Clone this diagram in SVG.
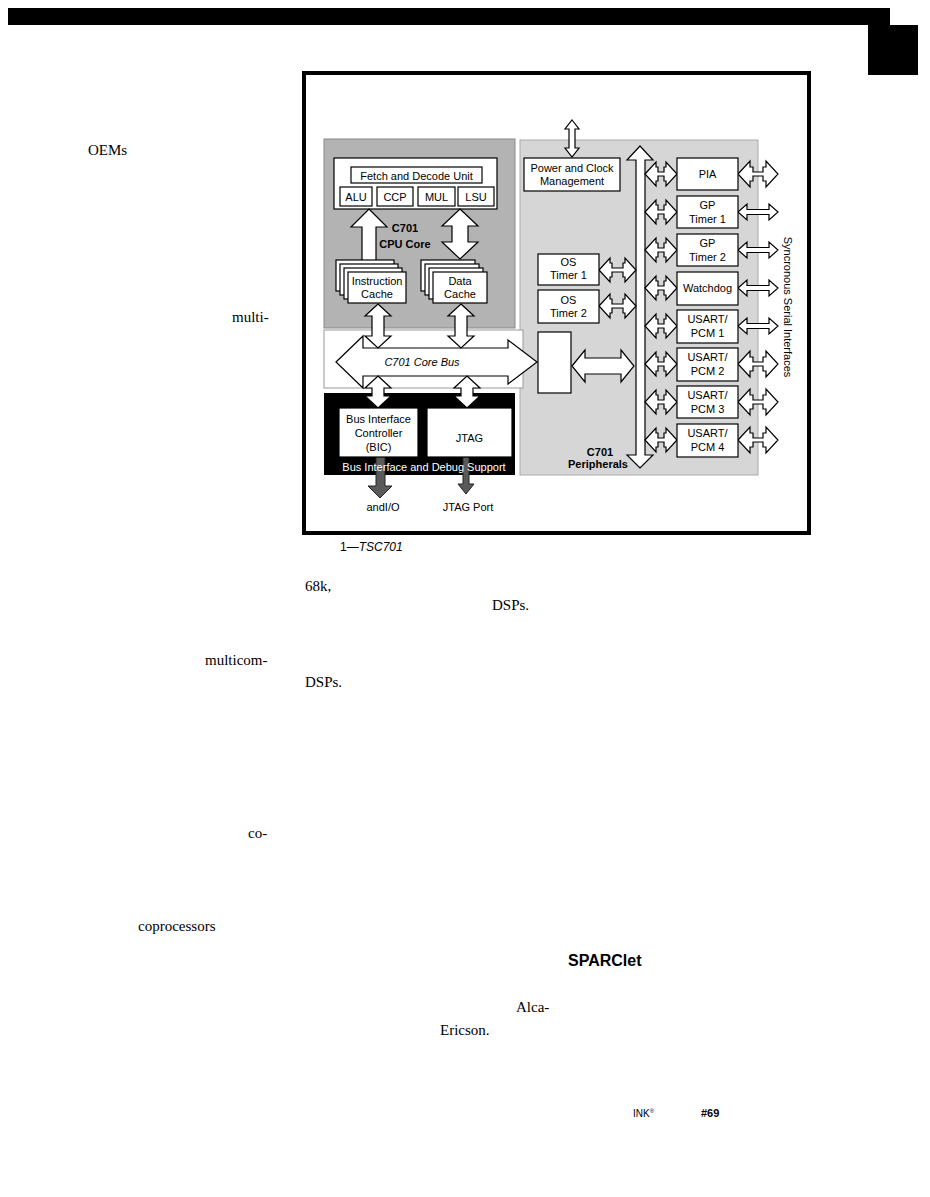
<svg xmlns="http://www.w3.org/2000/svg" width="930" height="1197" viewBox="0 0 930 1197">
<defs>
<style>
.box{fill:#fff;stroke:#000;stroke-width:1.2}
.t{font-family:"Liberation Sans",Arial,sans-serif;font-size:11px;fill:#000;text-anchor:middle}
.tb{font-family:"Liberation Sans",Arial,sans-serif;font-size:11px;font-weight:bold;fill:#000;text-anchor:middle}
.arr{fill:#fff;stroke:#000;stroke-width:1.2;stroke-linejoin:miter}
.garr{fill:#5a5a5a;stroke:#222;stroke-width:1}
.body{font-family:"Liberation Serif","Times New Roman",serif;font-size:15px;fill:#000}
</style>
<path id="w32" d="M0,0 L11,-12 L11,-7 L13,-7 L13,-2 L19,-2 L19,-7 L21,-7 L21,-12 L32,0 L21,12 L21,7 L19,7 L19,2 L13,2 L13,7 L11,7 L11,12 Z"/>
<path id="w40" d="M0,0 L12,-13 L12,-7 L15,-7 L15,-2 L25,-2 L25,-7 L28,-7 L28,-13 L40,0 L28,13 L28,7 L25,7 L25,2 L15,2 L15,7 L12,7 L12,13 Z"/>
<path id="t40" d="M0,0 L9,-8 L9,-2.5 L31,-2.5 L31,-8 L40,0 L31,8 L31,2.5 L9,2.5 L9,8 Z"/>
<path id="w37" d="M0,0 L11,-12 L11,-7 L13,-7 L13,-2 L24,-2 L24,-7 L26,-7 L26,-12 L37,0 L26,12 L26,7 L24,7 L24,2 L13,2 L13,7 L11,7 L11,12 Z"/>
</defs>

<!-- page header -->
<rect x="8" y="8" width="882" height="17" fill="#000"/>
<rect x="868" y="25" width="50" height="50" fill="#000"/>

<!-- frame -->
<rect x="304" y="73" width="505" height="460" fill="#fff" stroke="#000" stroke-width="4"/>

<!-- backgrounds -->
<g id="cpu-core">
<rect x="324" y="139" width="191" height="189" fill="#b3b3b3" stroke="#888" stroke-width="1"/>
<rect x="334" y="158" width="163" height="51" class="box"/>
<text class="tb" x="405" y="232">C701</text>
<text class="tb" x="405" y="248">CPU Core</text>
</g>
<g id="peripherals-area">
<rect x="520" y="140" width="238" height="335" fill="#d6d6d6" stroke="#aaa" stroke-width="1"/>
<text class="tb" x="600" y="456">C701</text>
<text class="tb" x="598" y="468">Peripherals</text>
</g>
<g id="core-bus-area">
<rect x="324" y="330" width="199" height="58" fill="#fff" stroke="#999" stroke-width="1"/>
</g>
<g id="bus-interface-debug">
<rect x="324" y="393" width="191" height="82" fill="#000"/>
</g>

<!-- connectors -->
<g id="connectors">
<!-- instruction cache up arrow -->
<path class="arr" d="M369,209 L387,227 L376,227 L376,262 L362,262 L362,227 L351,227 Z"/>
<!-- data cache double arrow -->
<path class="arr" d="M460,209 L478,226 L468,226 L468,242 L478,242 L460,259 L442,242 L452,242 L452,226 L442,226 Z"/>
<!-- core bus -->
<path class="arr" d="M336,362 L363,336 L363,348 L508,348 L508,340 L537,362 L508,384 L508,376 L363,376 L363,388 Z"/>
<!-- cache to bus -->
<path class="arr" d="M378,304 L391,316 L384,316 L384,336 L391,336 L378,348 L365,336 L372,336 L372,316 L365,316 Z"/>
<path class="arr" d="M461,304 L474,316 L467,316 L467,336 L474,336 L461,348 L448,336 L455,336 L455,316 L448,316 Z"/>
<!-- bus to BIC/JTAG -->
<path class="arr" d="M378,376 L391,388 L384,388 L384,396 L391,396 L378,408 L365,396 L372,396 L372,388 L365,388 Z"/>
<path class="arr" d="M467,376 L480,388 L473,388 L473,396 L480,396 L467,408 L454,396 L461,396 L461,388 L454,388 Z"/>
<!-- external down arrows -->
<path class="garr" d="M376,455 L385,455 L385,486 L392,486 L380,498 L368,486 L376,486 Z"/>
<path class="garr" d="M463,457 L469,457 L469,484 L474,484 L466,494 L458,484 L463,484 Z"/>
<!-- power top arrow -->
<path class="arr" d="M572,120 L579,129 L575,129 L575,148 L579,148 L572,157 L565,148 L569,148 L569,129 L565,129 Z"/>
<!-- vertical peripheral bus -->
<path class="arr" d="M640,146 L653,160 L645,160 L645,455 L653,455 L640,468 L627,455 L636,455 L636,160 L627,160 Z"/>
<!-- bus to peripherals (left) -->
<use href="#w32" class="arr" x="645" y="174"/>
<use href="#w32" class="arr" x="645" y="212"/>
<use href="#w32" class="arr" x="645" y="250"/>
<use href="#w32" class="arr" x="645" y="288"/>
<use href="#w32" class="arr" x="645" y="326"/>
<use href="#w32" class="arr" x="645" y="364"/>
<use href="#w32" class="arr" x="645" y="402"/>
<use href="#w32" class="arr" x="645" y="440"/>
<!-- peripherals to outside (right) -->
<use href="#w40" class="arr" x="738" y="174"/>
<use href="#t40" class="arr" x="738" y="212"/>
<use href="#t40" class="arr" x="738" y="250"/>
<use href="#t40" class="arr" x="738" y="288"/>
<use href="#t40" class="arr" x="738" y="326"/>
<use href="#w40" class="arr" x="738" y="364"/>
<use href="#w40" class="arr" x="738" y="402"/>
<use href="#w40" class="arr" x="738" y="440"/>
<!-- OS timers to bus -->
<use href="#w37" class="arr" x="599" y="270"/>
<use href="#w37" class="arr" x="599" y="306"/>
<!-- bridge to bus -->
<path class="arr" d="M572,366 L585,350 L585,358 L621,358 L621,350 L634,366 L621,382 L621,374 L585,374 L585,382 Z"/>
</g>

<!-- CPU core nodes -->
<g id="fetch-decode">
<rect x="351" y="167" width="131" height="16" class="box"/>
<text class="t" x="416.5" y="179.5" font-size="12">Fetch and Decode Unit</text>
</g>
<g id="alu"><rect x="340" y="187" width="32" height="19" class="box"/><text class="t" x="356" y="201" font-size="12">ALU</text></g>
<g id="ccp"><rect x="377" y="187" width="36" height="19" class="box"/><text class="t" x="395" y="201" font-size="12">CCP</text></g>
<g id="mul"><rect x="418" y="187" width="37" height="19" class="box"/><text class="t" x="436.5" y="201" font-size="12">MUL</text></g>
<g id="lsu"><rect x="458" y="187" width="36" height="19" class="box"/><text class="t" x="476" y="201" font-size="12">LSU</text></g>

<g id="instruction-cache">
<rect x="336" y="260" width="58" height="31" class="box"/>
<rect x="340" y="264" width="58" height="31" class="box"/>
<rect x="344" y="268" width="58" height="31" class="box"/>
<rect x="348" y="272" width="58" height="31" class="box"/>
<text class="t" x="377" y="285">Instruction</text>
<text class="t" x="377" y="298">Cache</text>
</g>
<g id="data-cache">
<rect x="421" y="260" width="54" height="31" class="box"/>
<rect x="425" y="264" width="54" height="31" class="box"/>
<rect x="429" y="268" width="54" height="31" class="box"/>
<rect x="433" y="272" width="54" height="31" class="box"/>
<text class="t" x="460" y="285">Data</text>
<text class="t" x="460" y="298">Cache</text>
</g>

<g id="core-bus-label">
<text class="t" x="422" y="366" font-style="italic">C701 Core Bus</text>
</g>

<g id="bic">
<rect x="339" y="408" width="79" height="49" class="box"/>
<text class="t" x="378.5" y="423">Bus Interface</text>
<text class="t" x="378.5" y="437">Controller</text>
<text class="t" x="378.5" y="451">(BIC)</text>
</g>
<g id="jtag">
<rect x="427" y="408" width="85" height="49" class="box"/>
<text class="t" x="469.5" y="442">JTAG</text>
</g>
<text class="t" x="424" y="471" fill="#fff" style="fill:#fff" font-size="11.5">Bus Interface and Debug Support</text>
<text class="t" x="383" y="511">andI/O</text>
<text class="t" x="468" y="511">JTAG Port</text>

<!-- peripheral nodes -->
<g id="power-clock">
<rect x="524" y="158" width="96" height="33" class="box"/>
<text class="t" x="572" y="172">Power and Clock</text>
<text class="t" x="572" y="185">Management</text>
</g>
<g id="os-timer-1">
<rect x="538" y="254" width="61" height="31" class="box"/>
<text class="t" x="568.5" y="266">OS</text>
<text class="t" x="568.5" y="279">Timer 1</text>
</g>
<g id="os-timer-2">
<rect x="538" y="290" width="61" height="33" class="box"/>
<text class="t" x="568.5" y="304">OS</text>
<text class="t" x="568.5" y="317">Timer 2</text>
</g>
<g id="bridge">
<rect x="538" y="332" width="33" height="61" class="box"/>
</g>
<g id="pia"><rect x="677" y="158" width="61" height="32" class="box"/><text class="t" x="707.5" y="178">PIA</text></g>
<g id="gp-timer-1"><rect x="677" y="196" width="61" height="32" class="box"/><text class="t" x="707.5" y="209">GP</text><text class="t" x="707.5" y="223">Timer 1</text></g>
<g id="gp-timer-2"><rect x="677" y="234" width="61" height="32" class="box"/><text class="t" x="707.5" y="247">GP</text><text class="t" x="707.5" y="261">Timer 2</text></g>
<g id="watchdog"><rect x="677" y="272" width="61" height="33" class="box"/><text class="t" x="707.5" y="292">Watchdog</text></g>
<g id="usart-1"><rect x="677" y="310" width="61" height="33" class="box"/><text class="t" x="707.5" y="323">USART/</text><text class="t" x="707.5" y="337">PCM 1</text></g>
<g id="usart-2"><rect x="677" y="348" width="61" height="33" class="box"/><text class="t" x="707.5" y="361">USART/</text><text class="t" x="707.5" y="375">PCM 2</text></g>
<g id="usart-3"><rect x="677" y="386" width="61" height="32" class="box"/><text class="t" x="707.5" y="399">USART/</text><text class="t" x="707.5" y="413">PCM 3</text></g>
<g id="usart-4"><rect x="677" y="424" width="61" height="33" class="box"/><text class="t" x="707.5" y="437">USART/</text><text class="t" x="707.5" y="451">PCM 4</text></g>

<text class="t" transform="translate(784,307) rotate(90)">Syncronous Serial Interfaces</text>

<!-- surrounding page text -->
<text class="body" x="88" y="155">OEMs</text>
<text class="body" x="232" y="322">multi-</text>
<text x="340" y="551" font-family="'Liberation Sans Narrow','Liberation Sans',Arial,sans-serif" font-size="12">1—<tspan font-style="italic">TSC701</tspan></text>
<text class="body" x="305" y="591">68k,</text>
<text class="body" x="492" y="610">DSPs.</text>
<text class="body" x="205" y="665">multicom-</text>
<text class="body" x="305" y="687">DSPs.</text>
<text class="body" x="248" y="838">co-</text>
<text class="body" x="138" y="931">coprocessors</text>
<text x="568" y="966" font-family="'Liberation Sans',Arial,sans-serif" font-size="16" font-weight="bold">SPARClet</text>
<text class="body" x="516" y="1012">Alca-</text>
<text class="body" x="440" y="1035">Ericson.</text>
<text x="633" y="1117" font-family="'Liberation Sans',Arial,sans-serif" font-size="10">INK<tspan font-size="6" dy="-4">®</tspan></text>
<text x="701" y="1117" font-family="'Liberation Sans',Arial,sans-serif" font-size="11" font-weight="bold">#69</text>
</svg>
